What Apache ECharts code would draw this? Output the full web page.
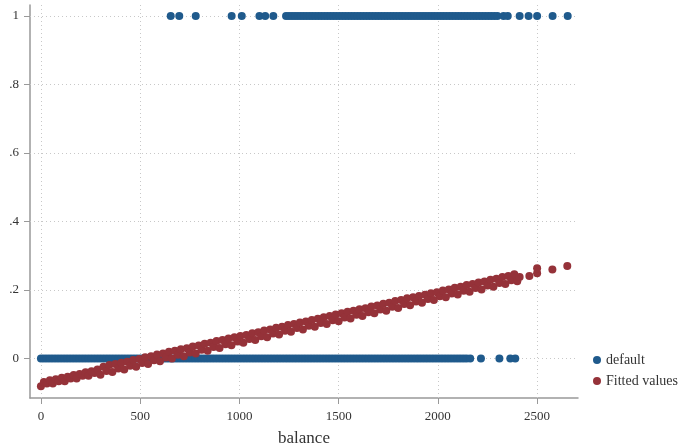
<!DOCTYPE html>
<html>
<head>
<meta charset="utf-8">
<script src="https://cdn.jsdelivr.net/npm/echarts@6/dist/echarts.min.js"></script>
<style>
	html, body { margin:0; padding:0; background:#fff; }
	#chart { width:685px; height:448px; }
</style>
</head>
<body>
<div id="chart"></div>
<script>
// balance of people with default = 0
var balanceNo = [0,15,30,45,60,75,90,105,120,135,150,165,180,195,210,225,240,255,270,285,
	300,315,330,345,360,375,390,405,420,435,450,465,480,495,510,525,540,555,570,585,
	600,615,630,645,660,675,690,705,720,735,750,765,780,795,810,825,840,855,870,885,
	900,915,930,945,960,975,990,1005,1020,1035,1050,1065,1080,1095,1110,1125,1140,1155,1170,1185,
	1200,1215,1230,1245,1260,1275,1290,1305,1320,1335,1350,1365,1380,1395,1410,1425,1440,1455,1470,1485,
	1500,1515,1530,1545,1560,1575,1590,1605,1620,1635,1650,1665,1680,1695,1710,1725,1740,1755,1770,1785,
	1800,1815,1830,1845,1860,1875,1890,1905,1920,1935,1950,1965,1980,1995,2010,2025,2040,2055,2070,2085,
	2100,2115,2130,2145,2163,2217,2310,2365,2390];
// balance of people with default = 1
var balanceYes = [654,697,780,961,1012,1101,1130,1171,
	1235,1250,1265,1280,1295,1310,1325,1340,1355,1370,1385,1400,1415,1430,1445,1460,1475,1490,
	1505,1520,1535,1550,1565,1580,1595,1610,1625,1640,1655,1670,1685,1700,1715,1730,1745,1760,
	1775,1790,1805,1820,1835,1850,1865,1880,1895,1910,1925,1940,1955,1970,1985,2000,2015,2030,
	2045,2060,2075,2090,2105,2120,2135,2150,2165,2180,2195,2210,2225,2240,2255,2270,2285,
	2300,2331,2352,2412,2457,2500,2578,2654];
// fitted values (balance, predicted probability)
var fittedX = [0,15,30,45,60,75,90,105,120,135,150,165,180,195,210,225,240,255,270,285,
	300,315,330,345,360,375,390,405,420,435,450,465,480,495,510,525,540,555,570,585,
	600,615,630,645,660,675,690,705,720,735,750,765,780,795,810,825,840,855,870,885,
	900,915,930,945,960,975,990,1005,1020,1035,1050,1065,1080,1095,1110,1125,1140,1155,1170,1185,
	1200,1215,1230,1245,1260,1275,1290,1305,1320,1335,1350,1365,1380,1395,1410,1425,1440,1455,1470,1485,
	1500,1515,1530,1545,1560,1575,1590,1605,1620,1635,1650,1665,1680,1695,1710,1725,1740,1755,1770,1785,
	1800,1815,1830,1845,1860,1875,1890,1905,1920,1935,1950,1965,1980,1995,2010,2025,2040,2055,2070,2085,
	2100,2115,2130,2145,2160,2175,2190,2205,2220,2235,2250,2265,2280,2295,2310,2325,2340,2355,2370,2385,
	2400,2412,2461,2500,2500,2577,2652];
var fittedY = [-0.081,-0.068,-0.073,-0.063,-0.073,-0.060,-0.066,-0.056,-0.066,-0.053,-0.058,-0.048,-0.058,-0.045,-0.050,-0.040,-0.050,-0.037,-0.042,-0.032,
	-0.047,-0.024,-0.036,-0.019,-0.039,-0.016,-0.029,-0.012,-0.032,-0.009,-0.021,-0.004,-0.024,-0.001,-0.013,0.004,-0.016,0.007,-0.005,0.012,
	-0.008,0.015,0.003,0.020,0.000,0.023,0.011,0.027,0.007,0.030,0.018,0.035,0.015,0.038,0.026,0.043,0.023,0.046,0.034,0.051,
	0.031,0.054,0.042,0.059,0.039,0.062,0.050,0.066,0.046,0.069,0.057,0.074,0.054,0.077,0.065,0.082,0.062,0.085,0.073,0.090,
	0.070,0.093,0.081,0.098,0.078,0.101,0.089,0.105,0.085,0.108,0.096,0.113,0.093,0.116,0.104,0.121,0.101,0.124,0.112,0.129,
	0.109,0.132,0.120,0.137,0.117,0.140,0.128,0.144,0.124,0.147,0.135,0.152,0.132,0.155,0.143,0.160,0.140,0.163,0.151,0.168,
	0.148,0.171,0.159,0.176,0.156,0.179,0.167,0.183,0.163,0.186,0.174,0.191,0.171,0.194,0.182,0.199,0.179,0.202,0.190,0.207,
	0.187,0.210,0.198,0.215,0.195,0.218,0.206,0.222,0.202,0.225,0.213,0.230,0.210,0.233,0.221,0.238,0.218,0.241,0.229,0.246,
	0.226,0.238,0.241,0.249,0.264,0.260,0.270];

var xTicks = [0,500,1000,1500,2000,2500];
var yTicks = [0,0.2,0.4,0.6,0.8,1];

var blue = '#1f5a8c',
    red = '#953239',
    font = '"Liberation Serif", "DejaVu Serif", serif';

var defaultData = [];
for(var i=0; i<balanceNo.length; i++){
	defaultData.push([balanceNo[i], 0]);
}
for(var j=0; j<balanceYes.length; j++){
	defaultData.push([balanceYes[j], 1]);
}
var fittedData = [];
for(var k=0; k<fittedX.length; k++){
	fittedData.push([fittedX[k], fittedY[k]]);
}

// dotted grid lines at the tick values
var gridLines = [];
for(var a=0; a<xTicks.length; a++){
	gridLines.push({ xAxis: xTicks[a] });
}
for(var b=0; b<yTicks.length; b++){
	gridLines.push({ yAxis: yTicks[b] });
}

var chart = echarts.init(document.getElementById('chart'));
var option = {
	animation: false,
	backgroundColor: '#fff',
	textStyle: { fontFamily: font },
	grid: { left: 30, right: 107, top: 5, bottom: 50, containLabel: false, outerBoundsMode: 'none' },
	legend: {
		orient: 'vertical',
		left: 588,
		top: 348,
		icon: 'circle',
		itemWidth: 8,
		itemHeight: 8,
		itemGap: 7,
		itemStyle: { borderWidth: 0 },
		textStyle: { fontFamily: font, fontSize: 14, color: '#333' },
		data: ['default', 'Fitted values']
	},
	xAxis: {
		type: 'value',
		min: -55,
		max: 2706,
		name: 'balance',
		nameLocation: 'middle',
		nameGap: 32,
		nameTextStyle: { fontFamily: font, fontSize: 17, color: '#333' },
		axisLine: { show: true, onZero: false, lineStyle: { color: '#999', width: 1.5 } },
		axisTick: { show: true, length: 6, customValues: xTicks, lineStyle: { color: '#999' } },
		axisLabel: {
			customValues: xTicks,
			margin: 12,
			fontSize: 13,
			color: '#333',
			fontFamily: font,
			formatter: function(v){ return String(v); }
		},
		splitLine: { show: false }
	},
	yAxis: {
		type: 'value',
		min: -0.115,
		max: 1.032,
		axisLine: { show: true, onZero: false, lineStyle: { color: '#999', width: 1.5 } },
		axisTick: { show: true, length: 6, customValues: yTicks, lineStyle: { color: '#999' } },
		axisLabel: {
			customValues: yTicks,
			margin: 11,
			fontSize: 13,
			color: '#333',
			fontFamily: font,
			formatter: function(v){
				if(v==0 || v==1){ return String(v); }
				return String(Math.round(v*10)/10).replace('0.', '.');
			}
		},
		splitLine: { show: false }
	},
	series: [{
		name: 'grid',
		type: 'scatter',
		data: [],
		z: 1,
		silent: true,
		markLine: {
			z: 1,
			silent: true,
			symbol: ['none', 'none'],
			label: { show: false },
			lineStyle: { type: [1, 3], color: '#c8c8c8', width: 1 },
			data: gridLines
		}
	}, {
		name: 'default',
		type: 'scatter',
		symbol: 'circle',
		symbolSize: 8,
		z: 10,
		itemStyle: { color: blue, opacity: 1, borderWidth: 0 },
		data: defaultData
	}, {
		name: 'Fitted values',
		type: 'scatter',
		symbol: 'circle',
		symbolSize: 8,
		z: 11,
		itemStyle: { color: red, opacity: 1, borderWidth: 0 },
		data: fittedData
	}]
};
chart.setOption(option);
</script>
</body>
</html>
